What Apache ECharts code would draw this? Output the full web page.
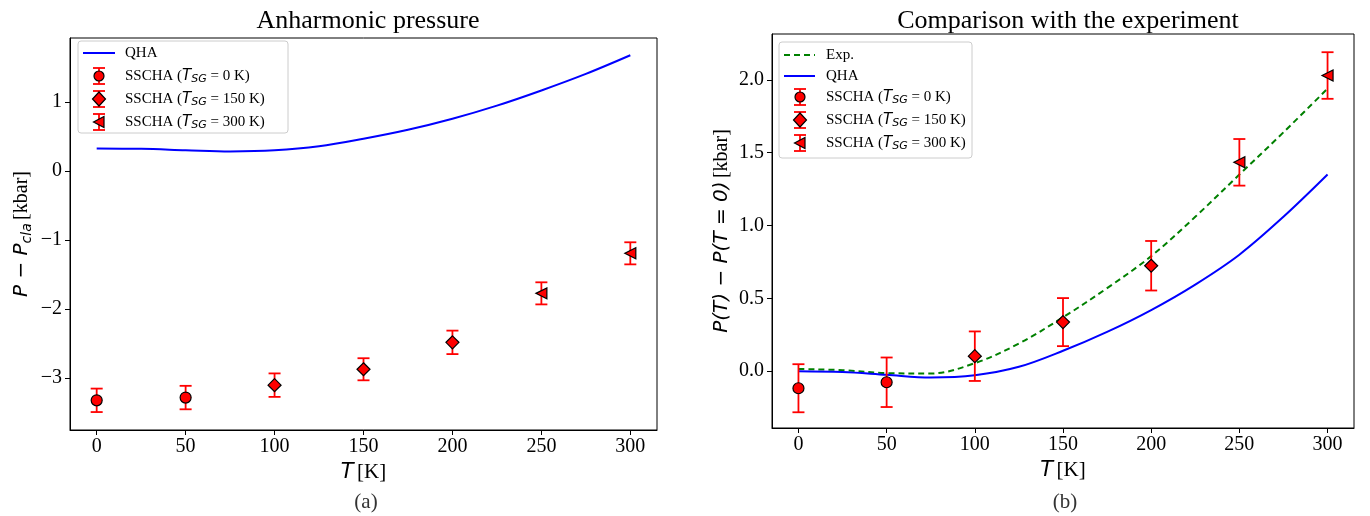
<!DOCTYPE html>
<html>
<head>
<meta charset="utf-8">
<script src="https://cdn.jsdelivr.net/npm/echarts@6/dist/echarts.min.js"></script>
<style>
  html, body { margin: 0; padding: 0; background: #fff; }
  #chart { width: 1370px; height: 516px; }
</style>
</head>
<body>
<div id="chart"></div>
<script>
// Temperatures of the SSCHA calculations [K]
const temps = [0, 50, 100, 150, 200, 250, 300];
// Which T_SG run each temperature belongs to (0 -> 0 K, 1 -> 150 K, 2 -> 300 K)
const sgGroup = [0, 0, 1, 1, 1, 2, 2];
const sgLabels = ['0', '150', '300'];

// Panel (a): anharmonic pressure P - P_cla [kbar]
const anharmValues = [-3.32, -3.28, -3.10, -2.87, -2.48, -1.77, -1.19];
const anharmErrors = [0.17, 0.17, 0.17, 0.16, 0.17, 0.16, 0.16];

// Panel (b): P(T) - P(T=0) [kbar]
const shiftValues = [-0.117, -0.076, 0.103, 0.337, 0.724, 1.434, 2.03];
const shiftErrors = [0.165, 0.17, 0.17, 0.165, 0.17, 0.16, 0.16];

// Continuous curves sampled every 25 K
const curveT = [0, 25, 50, 75, 100, 125, 150, 175, 200, 225, 250, 275, 300];
const qhaAnharm = [0.33, 0.324, 0.305, 0.287, 0.302, 0.36, 0.47, 0.60, 0.76, 0.95, 1.17, 1.41, 1.68];
const qhaShift = [0.0, -0.006, -0.025, -0.043, -0.028, 0.03, 0.14, 0.27, 0.42, 0.595, 0.80, 1.06, 1.35];
const expShift = [0.015, 0.007, -0.013, -0.016, 0.055, 0.19, 0.37, 0.57, 0.79, 1.06, 1.35, 1.64, 1.94];

// Tick labels
const xTicks = [0, 50, 100, 150, 200, 250, 300];
const yTicksA = [-3, -2, -1, 0, 1];
const yTicksB = [0, 0.5, 1.0, 1.5, 2.0];

const SERIF = '"Liberation Serif", "DejaVu Serif", serif';
const MATH = '"DejaVu Sans", sans-serif';
const RED = '#ff0000';
const BLUE = '#0000ff';
const GREEN = '#008000';
const symbolOf = ['circle', 'diamond', 'triangle'];
const sizeOf = [11, 13, 11];
const rotateOf = [0, 0, 90];

const pairs = (xs, ys) => xs.map((x, i) => [x, ys[i]]);

function errorSeries(idx, values, errors) {
  return {
    type: 'custom',
    xAxisIndex: idx, yAxisIndex: idx,
    z: 3,
    silent: true,
    data: temps.map((t, i) => [t, values[i], errors[i]]),
    renderItem: function (params, api) {
      const x = api.value(0), y = api.value(1), e = api.value(2);
      const top = api.coord([x, y + e]);
      const bot = api.coord([x, y - e]);
      const s = { stroke: RED, lineWidth: 1.8 };
      const cap = 6;
      return {
        type: 'group',
        children: [
          { type: 'line', shape: { x1: top[0], y1: top[1], x2: bot[0], y2: bot[1] }, style: s },
          { type: 'line', shape: { x1: top[0] - cap, y1: top[1], x2: top[0] + cap, y2: top[1] }, style: s },
          { type: 'line', shape: { x1: bot[0] - cap, y1: bot[1], x2: bot[0] + cap, y2: bot[1] }, style: s }
        ]
      };
    }
  };
}

function markerSeries(idx, values) {
  const out = [];
  for (let g = 0; g < 3; g++) {
    const data = [];
    temps.forEach((t, i) => { if (sgGroup[i] === g) data.push([t, values[i]]); });
    out.push({
      type: 'scatter',
      xAxisIndex: idx, yAxisIndex: idx,
      z: 5,
      symbol: symbolOf[g],
      symbolSize: sizeOf[g],
      symbolRotate: rotateOf[g],
      itemStyle: { color: RED, borderColor: '#000', borderWidth: 1.2, opacity: 1 },
      data: data
    });
  }
  return out;
}

const axisText = { fontFamily: SERIF, fontSize: 20, color: '#000' };
const minusFmt = v => (v < 0 ? '\u2212' + Math.abs(v) : String(v));

function xAxisCfg(idx) {
  return {
    type: 'value', gridIndex: idx, min: -15, max: 315,
    splitLine: { show: false },
    axisLine: { show: true, onZero: false, lineStyle: { color: '#000', width: 1 } },
    axisTick: { show: true, inside: false, customValues: xTicks, length: 5, lineStyle: { color: '#000' } },
    axisLabel: Object.assign({ customValues: xTicks, margin: 7, formatter: v => String(v) }, axisText),
    name: '{i|T} {n|[K]}',
    nameLocation: 'middle',
    nameGap: 31,
    nameTextStyle: {
      rich: {
        i: { fontFamily: MATH, fontStyle: 'italic', fontSize: 21, color: '#000' },
        n: { fontFamily: SERIF, fontSize: 21, color: '#000' }
      }
    }
  };
}

function curveSeries(idx, ys, color, dashed) {
  return {
    type: 'line', xAxisIndex: idx, yAxisIndex: idx, z: 2,
    data: pairs(curveT, ys), smooth: 0.35, showSymbol: false,
    lineStyle: { color: color, width: 2, type: dashed ? [6, 4] : 'solid' }
  };
}

const option = {
  animation: false,
  backgroundColor: '#fff',
  title: [
    { text: 'Anharmonic pressure', left: 363, top: 3, textAlign: 'center',
      textStyle: { fontFamily: SERIF, fontSize: 26, fontWeight: 'normal', color: '#000' } },
    { text: 'Comparison with the experiment', left: 1063, top: 3, textAlign: 'center',
      textStyle: { fontFamily: SERIF, fontSize: 26, fontWeight: 'normal', color: '#000' } },
    { text: '(a)', left: 361, top: 487, textAlign: 'center',
      textStyle: { fontFamily: SERIF, fontSize: 21, fontWeight: 'normal', color: '#333' } },
    { text: '(b)', left: 1060, top: 487, textAlign: 'center',
      textStyle: { fontFamily: SERIF, fontSize: 21, fontWeight: 'normal', color: '#333' } }
  ],
  grid: [
    { left: 70, top: 38, width: 587, height: 392, show: true, borderColor: '#000', borderWidth: 1, containLabel: false },
    { left: 772, top: 34, width: 582, height: 394, show: true, borderColor: '#000', borderWidth: 1, containLabel: false }
  ],
  xAxis: [xAxisCfg(0), xAxisCfg(1)],
  yAxis: [
    {
      type: 'value', gridIndex: 0, min: -3.75, max: 1.93,
      splitLine: { show: false },
      axisLine: { show: true, onZero: false, lineStyle: { color: '#000', width: 1 } },
      axisTick: { show: true, inside: false, customValues: yTicksA, length: 5, lineStyle: { color: '#000' } },
      axisLabel: Object.assign({ customValues: yTicksA, margin: 8, formatter: minusFmt }, axisText),
      name: '{i|P \u2212 P}{s|cla} {n|[kbar]}',
      nameLocation: 'middle', nameRotate: 90, nameGap: 36,
      nameTextStyle: {
        rich: {
          i: { fontFamily: MATH, fontStyle: 'italic', fontSize: 20, lineHeight: 24, color: '#000' },
          s: { fontFamily: MATH, fontStyle: 'italic', fontSize: 14, lineHeight: 14, verticalAlign: 'bottom', color: '#000' },
          n: { fontFamily: SERIF, fontSize: 20, lineHeight: 24, color: '#000' }
        }
      }
    },
    {
      type: 'value', gridIndex: 1, min: -0.39, max: 2.315,
      splitLine: { show: false },
      axisLine: { show: true, onZero: false, lineStyle: { color: '#000', width: 1 } },
      axisTick: { show: true, inside: false, customValues: yTicksB, length: 5, lineStyle: { color: '#000' } },
      axisLabel: Object.assign({ customValues: yTicksB, margin: 8, formatter: v => v.toFixed(1) }, axisText),
      name: '{i|P(T) \u2212 P(T = 0)} {n|[kbar]}',
      nameLocation: 'middle', nameRotate: 90, nameGap: 40,
      nameTextStyle: {
        rich: {
          i: { fontFamily: MATH, fontStyle: 'italic', fontSize: 20, color: '#000' },
          n: { fontFamily: SERIF, fontSize: 20, color: '#000' }
        }
      }
    }
  ],
  series: [
    curveSeries(0, qhaAnharm, BLUE, false),
    errorSeries(0, anharmValues, anharmErrors),
    ...markerSeries(0, anharmValues),
    curveSeries(1, expShift, GREEN, true),
    curveSeries(1, qhaShift, BLUE, false),
    errorSeries(1, shiftValues, shiftErrors),
    ...markerSeries(1, shiftValues)
  ]
};

// Legend boxes drawn as graphic elements (error-bar glyphs need two colours)
const legRich = {
  n: { fontFamily: SERIF, fontSize: 15, lineHeight: 18, fill: '#000' },
  i: { fontFamily: MATH, fontStyle: 'italic', fontSize: 15, lineHeight: 18, fill: '#000' },
  s: { fontFamily: MATH, fontStyle: 'italic', fontSize: 11, lineHeight: 11, verticalAlign: 'bottom', fill: '#000' }
};

function legendText(x, y, str) {
  return {
    type: 'text', x: x, y: y, z: 20,
    style: { text: str, rich: legRich, fontFamily: SERIF, fontSize: 15, fill: '#000', verticalAlign: 'middle', align: 'left' }
  };
}
function legendLine(x1, x2, y, color, dashed) {
  return {
    type: 'line', z: 20,
    shape: { x1: x1, y1: y, x2: x2, y2: y },
    style: { stroke: color, lineWidth: 2, lineDash: dashed ? [6, 4] : null }
  };
}
function legendErrGlyph(cx, cy, g) {
  const s = { stroke: RED, lineWidth: 1.8 };
  const h = 8, cap = 6;
  const items = [
    { type: 'line', z: 20, shape: { x1: cx, y1: cy - h, x2: cx, y2: cy + h }, style: s },
    { type: 'line', z: 20, shape: { x1: cx - cap, y1: cy - h, x2: cx + cap, y2: cy - h }, style: s },
    { type: 'line', z: 20, shape: { x1: cx - cap, y1: cy + h, x2: cx + cap, y2: cy + h }, style: s }
  ];
  const ms = { fill: RED, stroke: '#000', lineWidth: 1.2 };
  if (g === 0) {
    items.push({ type: 'circle', z: 21, shape: { cx: cx, cy: cy, r: 5 }, style: ms });
  } else if (g === 1) {
    items.push({ type: 'polygon', z: 21, shape: { points: [[cx, cy - 7], [cx + 6.5, cy], [cx, cy + 7], [cx - 6.5, cy]] }, style: ms });
  } else {
    items.push({ type: 'polygon', z: 21, shape: { points: [[cx - 5.5, cy], [cx + 5, cy - 5.5], [cx + 5, cy + 5.5]] }, style: ms });
  }
  return items;
}
const sgText = g => 'SSCHA ({i|T}{s|SG} = ' + sgLabels[g] + ' K)';

const graphics = [];
// Panel (a) legend
graphics.push({ type: 'rect', z: 19, shape: { x: 78, y: 41, width: 210, height: 92, r: 3 },
  style: { fill: 'rgba(255,255,255,0.85)', stroke: '#cccccc', lineWidth: 1 } });
graphics.push(legendLine(83, 115, 53, BLUE, false));
graphics.push(legendText(125, 53, '{n|QHA}'));
[0, 1, 2].forEach(g => {
  const y = 76 + g * 23;
  graphics.push(...legendErrGlyph(99, y, g));
  graphics.push(legendText(125, y, sgText(g)));
});
// Panel (b) legend
graphics.push({ type: 'rect', z: 19, shape: { x: 779, y: 42, width: 193, height: 116, r: 3 },
  style: { fill: 'rgba(255,255,255,0.85)', stroke: '#cccccc', lineWidth: 1 } });
graphics.push(legendLine(784, 815, 55, GREEN, true));
graphics.push(legendText(826, 55, '{n|Exp.}'));
graphics.push(legendLine(784, 815, 76, BLUE, false));
graphics.push(legendText(826, 76, '{n|QHA}'));
[0, 1, 2].forEach(g => {
  const y = 97 + g * 23;
  graphics.push(...legendErrGlyph(800, y, g));
  graphics.push(legendText(826, y, sgText(g)));
});
option.graphic = graphics;

const chart = echarts.init(document.getElementById('chart'), null, { renderer: 'canvas' });
chart.setOption(option);
</script>
</body>
</html>
